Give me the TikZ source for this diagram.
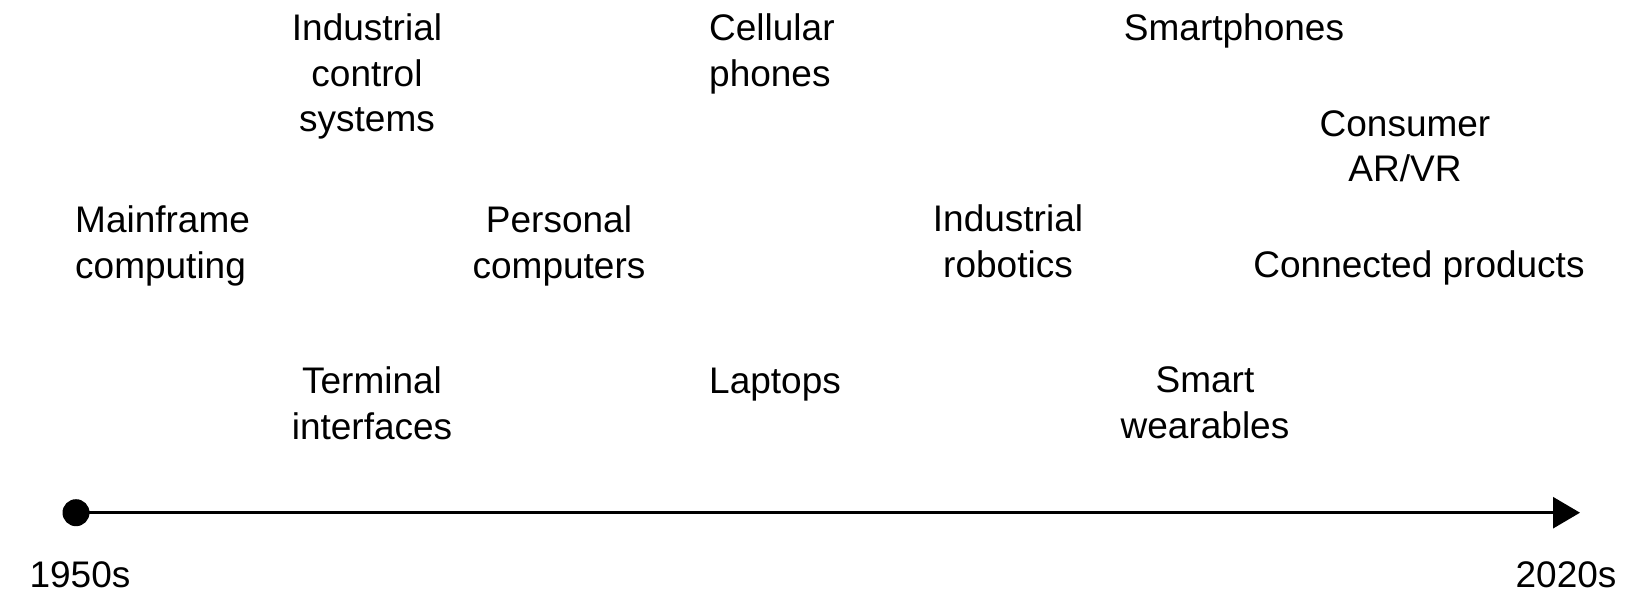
\documentclass[tikz,border=0pt]{standalone}
\usepackage{fontspec}
\setmainfont{Liberation Sans}
\usetikzlibrary{arrows.meta}
\tikzset{
  lbl/.style={inner sep=0pt, font=\fontsize{37}{45.7}\selectfont, anchor=base, align=center},
  lbll/.style={lbl, anchor=base west, align=left},
  axis/.style={line width=2.8pt, -{Triangle[length=27pt,width=31pt]}},
  dotstyle/.style={circle, fill=black, inner sep=0pt, minimum size=27pt}
}
\begin{document}
\begin{tikzpicture}[x=1pt,y=-1pt]
\useasboundingbox (0,0) rectangle (1650,605);
% anchor=base of a multi-line node is the baseline of its last line
\node[lbl] (ics) at (367,131.7) {Industrial\\control\\systems};
\node[lbll] (main) at (75,278) {Mainframe\\computing};
\node[lbl] (pc) at (559,278) {Personal\\computers};
\node[lbll] (cell) at (709,86.5) {Cellular\\phones};
\node[lbll] (lap) at (709,393) {Laptops};
\node[lbl] (term) at (372,439) {Terminal\\interfaces};
\node[lbl] (smph) at (1234,40.7) {Smartphones};
\node[lbl] (arvr) at (1405,181.7) {Consumer\\AR/VR};
\node[lbl] (rob) at (1008,277.5) {Industrial\\robotics};
\node[lbl] (conn) at (1419,277.5) {Connected products};
\node[lbl] (wear) at (1205,438.5) {Smart\\wearables};
\node[lbl] (y1950) at (80,587) {1950s};
\node[lbl] (y2020) at (1566,587) {2020s};
\node[dotstyle] (dot) at (76,512.7) {};
\coordinate (tip) at (1580,512.7);
\draw[axis] (dot.center) -- (tip);
\end{tikzpicture}
\end{document}
